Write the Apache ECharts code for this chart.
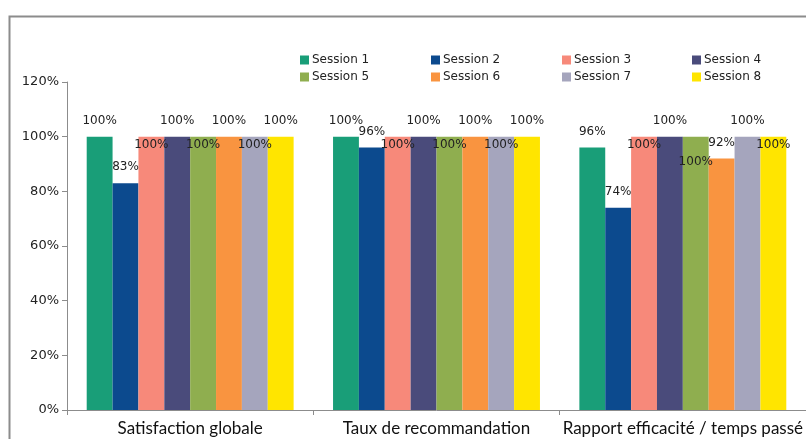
<!DOCTYPE html>
<html><head><meta charset="utf-8">
<script src="https://cdn.jsdelivr.net/npm/echarts@6/dist/echarts.min.js"></script>
<style>html,body{margin:0;padding:0;background:#fff}#c{width:806px;height:439px}</style>
</head><body><div id="c"></div>
<script>
const categories = ['Satisfaction globale', 'Taux de recommandation', 'Rapport efficacité / temps passé'];
const seriesNames = ['Session 1','Session 2','Session 3','Session 4','Session 5','Session 6','Session 7','Session 8'];
const s1 = [100, 100, 96];
const s2 = [83, 96, 74];
const s3 = [100, 100, 100];
const s4 = [100, 100, 100];
const s5 = [100, 100, 100];
const s6 = [100, 100, 92];
const s7 = [100, 100, 100];
const s8 = [100, 100, 100];
const yTicks = [0, 20, 40, 60, 80, 100, 120];

const values = [s1, s2, s3, s4, s5, s6, s7, s8];
const colors = ['#199e78','#0c4a8e','#f7897a','#4a4b7b','#8fae4f','#f99440','#a5a5bd','#ffe500'];
// label placement: 'a' = above the bar, 'i' = just inside top, 'd' = deeper inside
const placement = [
  ['a','a','a'],
  ['a','a','a'],
  ['i','i','i'],
  ['a','a','a'],
  ['i','i','d'],
  ['a','a','a'],
  ['i','i','a'],
  ['a','a','i']
];
function labelFor(p) {
  if (p === 'a') return { position: 'top', distance: 10 };
  if (p === 'i') return { position: 'insideTop', distance: 2 };
  return { position: 'insideTop', distance: 19 };
}
const font = 'DejaVu Sans';
const series = values.map((vals, si) => ({
  name: seriesNames[si],
  type: 'bar',
  barGap: '0%',
  barCategoryGap: '16%',
  itemStyle: { color: colors[si] },
  data: vals.map((v, ci) => ({
    value: v,
    label: Object.assign({
      show: true,
      formatter: '{c}%',
      color: '#222',
      fontFamily: font,
      fontSize: 12
    }, labelFor(placement[si][ci]))
  }))
}));

const legendLefts = [300, 431, 562, 692];
const legendTops = [54, 71];
const legends = seriesNames.map((n, i) => ({
  data: [n],
  left: legendLefts[i % 4],
  top: legendTops[Math.floor(i / 4)],
  padding: 0,
  itemWidth: 9,
  itemHeight: 9,
  itemGap: 0,
  icon: 'rect',
  textStyle: { fontFamily: font, fontSize: 12, color: '#222', padding: [0,0,0,-2] },
  selectedMode: false
}));

const chart = echarts.init(document.getElementById('c'), null, { renderer: 'canvas' });
chart.setOption({
  animation: false,
  backgroundColor: '#fff',
  graphic: [{
    type: 'rect',
    shape: { x: 9.5, y: 16.5, width: 900, height: 500 },
    style: { fill: 'none', stroke: '#8c8c8c', lineWidth: 2 },
    silent: true
  }],
  legend: legends,
  grid: { left: 67, right: -4, top: 82, bottom: 29, containLabel: false },
  xAxis: {
    type: 'category',
    data: categories,
    axisLine: { lineStyle: { color: '#8c8c8c', width: 1 } },
    axisTick: { show: true, length: 5, lineStyle: { color: '#8c8c8c' } },
    axisLabel: { fontFamily: 'Lato', fontSize: 17, color: '#111', margin: 10, interval: 0 }
  },
  yAxis: {
    type: 'value',
    min: 0, max: 120, interval: 20,
    axisLine: { show: true, lineStyle: { color: '#8c8c8c' } },
    axisTick: { show: true, length: 5, lineStyle: { color: '#8c8c8c' } },
    splitLine: { show: false },
    axisLabel: { formatter: v => yTicks.includes(v) ? v + '%' : '', fontFamily: font, fontSize: 13, color: '#222', margin: 8 }
  },
  series: series
});
</script></body></html>
